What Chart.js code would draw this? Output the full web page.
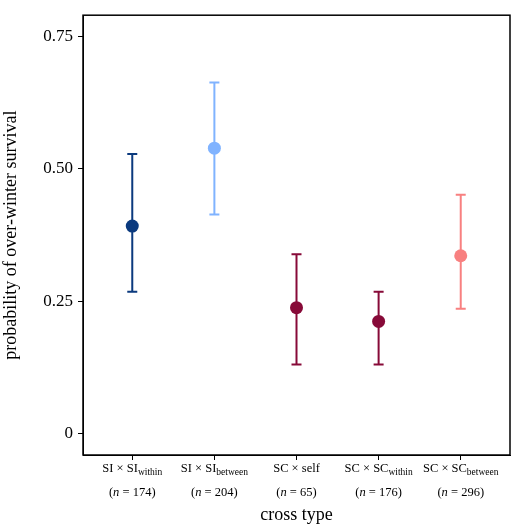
<!DOCTYPE html>
<html><head><meta charset="utf-8">
<script src="https://cdn.jsdelivr.net/npm/chart.js@4"></script>
<style>html,body{margin:0;background:#fff}#w{width:520px;height:528px}</style>
</head><body><div id="w"><canvas id="c"></canvas></div>
<script>
const crossA = ["SI","SI","SC","SC","SC"];
const crossB = ["SI","SI","self","SC","SC"];
const subs = ["within","between","","within","between"];
const nVals = [174,204,65,176,296];
const means = [0.392,0.539,0.238,0.212,0.336];
const lower = [0.268,0.414,0.131,0.131,0.236];
const upper = [0.528,0.663,0.339,0.268,0.451];
const colors = ["#0b3a7e","#80b3ff","#870a38","#870a38","#f88080"];
const yTicks = [0,0.25,0.5,0.75];
const F = "'Liberation Serif', serif";

const errPlugin = {
  id:'err',
  afterDatasetsDraw(ch){
    const c=ch.ctx,x=ch.scales.x,y=ch.scales.y;
    c.save();c.lineWidth=2;
    means.forEach((m,i)=>{
      const px=x.getPixelForValue(i),pl=y.getPixelForValue(lower[i]),pu=y.getPixelForValue(upper[i]);
      c.strokeStyle=colors[i];c.beginPath();
      c.moveTo(px,pl);c.lineTo(px,pu);
      c.moveTo(px-5,pl);c.lineTo(px+5,pl);
      c.moveTo(px-5,pu);c.lineTo(px+5,pu);
      c.stroke();
      c.fillStyle=colors[i];c.beginPath();c.arc(px,y.getPixelForValue(m),6.5,0,Math.PI*2);c.fill();
    });
    const a=ch.chartArea;
    c.strokeStyle='#000';c.lineWidth=1.5;c.strokeRect(a.left,a.top,a.right-a.left,a.bottom-a.top);
    c.fillStyle='#000';c.textBaseline='alphabetic';
    means.forEach((m,i)=>{
      const px=x.getPixelForValue(i);
      const main=crossA[i]+" × "+crossB[i];
      c.font="12.5px "+F;const w1=c.measureText(main).width;
      c.font="9.5px "+F;const w2=subs[i]?c.measureText(subs[i]).width:0;
      let sx=px-(w1+w2)/2, by=a.bottom+17;
      c.font="12.5px "+F;c.textAlign='left';c.fillText(main,sx,by);
      if(subs[i]){c.font="9.5px "+F;c.fillText(subs[i],sx+w1,by+3);}
      const p1="(",p2="n",p3=" = "+nVals[i]+")";
      c.font="12.5px "+F;const wa=c.measureText(p1).width,wc=c.measureText(p3).width;
      c.font="italic 12.5px "+F;const wb=c.measureText(p2).width;
      let qx=px-(wa+wb+wc)/2,qy=a.bottom+41;
      c.font="12.5px "+F;c.fillText(p1,qx,qy);
      c.font="italic 12.5px "+F;c.fillText(p2,qx+wa,qy);
      c.font="12.5px "+F;c.fillText(p3,qx+wa+wb,qy);
    });
    c.restore();
  }
};

new Chart(document.getElementById('c'),{
  type:'scatter',
  data:{datasets:[{data:means.map((m,i)=>({x:i,y:m})),pointRadius:0}]},
  options:{
    responsive:true,maintainAspectRatio:false,animation:false,
    layout:{padding:{left:0,right:10,top:5,bottom:2}},
    plugins:{legend:{display:false},tooltip:{enabled:false}},
    scales:{
      x:{type:'linear',min:-0.6,max:4.6,
        afterBuildTicks(s){s.ticks=[0,1,2,3,4].map(v=>({value:v}));},
        afterFit(s){s.height=71;},
        ticks:{callback:()=>'',font:{size:12,family:F}},
        grid:{drawOnChartArea:false,tickLength:5,color:'#000'},border:{color:'#000'},
        title:{display:true,text:'cross type',font:{size:18,family:F},color:'#000',padding:{top:0,bottom:0}}},
      y:{min:-0.04,max:0.79,
        afterBuildTicks(s){s.ticks=yTicks.map(v=>({value:v}));},
        afterFit(s){s.width=83;},
        ticks:{callback:v=>v===0?'0':v.toFixed(2),font:{size:17,family:F},color:'#000',padding:5},
        grid:{drawOnChartArea:false,tickLength:5,color:'#000'},border:{color:'#000'},
        title:{display:true,text:'probability of over-winter survival',font:{size:18,family:F},color:'#000',padding:{top:0,bottom:0}}}
    }
  },
  plugins:[errPlugin]
});
</script></body></html>
